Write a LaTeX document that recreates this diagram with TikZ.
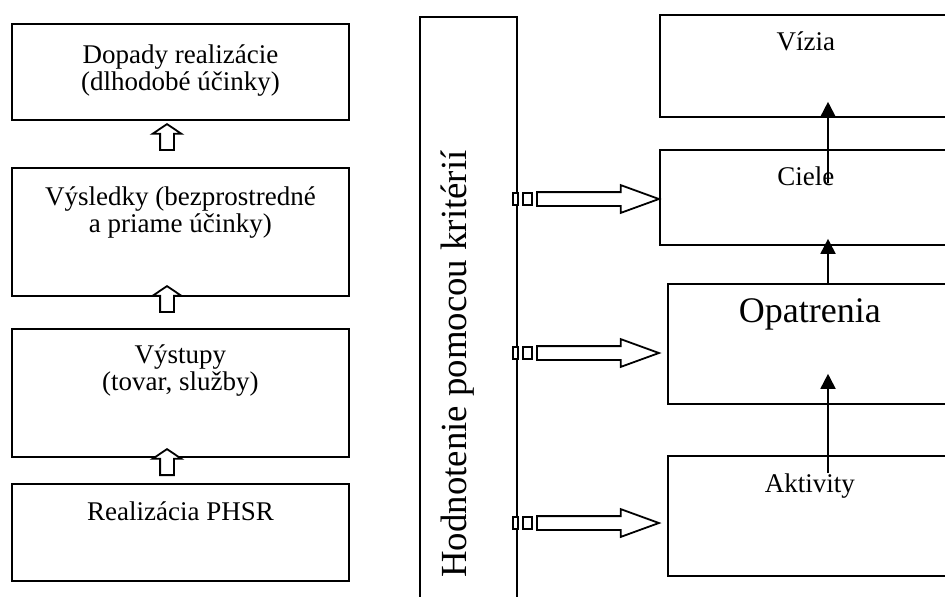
\documentclass[tikz,border=0pt]{standalone}
\usepackage{fontspec}
\setmainfont{Liberation Serif}
\usetikzlibrary{arrows.meta,shapes.arrows}

\begin{document}
\begin{tikzpicture}[x=0.5pt,y=-0.5pt,line width=0.9pt,
    box/.style={draw,rectangle,anchor=north west,inner sep=0pt},
    txt/.style={font=\fontsize{13.5}{13.5}\selectfont,align=center,anchor=base,inner sep=0pt},
    uparr/.style={draw,fill=white,single arrow,shape border rotate=90,anchor=tip,
        inner xsep=3pt,inner ysep=0pt,minimum width=0pt,single arrow head extend=3.75pt,
        single arrow tip angle=112,minimum height=13pt},
    rarr/.style={draw,fill=white,single arrow,anchor=tail,
        inner xsep=0pt,inner ysep=3pt,minimum width=0pt,single arrow head extend=3.5pt,
        single arrow tip angle=40,minimum height=61pt},
    tailbox/.style={draw,fill=white,rectangle,inner sep=0pt,minimum height=6pt},
    tri/.style={-{Triangle[length=7.5pt,width=7.5pt]}}]

  \clip (0,0) rectangle (945,596);

  % left column
  \node[box,minimum width=168.5pt,minimum height=48pt] (dopady) at (11,23) {};
  \node[box,minimum width=168.5pt,minimum height=64pt] (vysledky) at (11,167) {};
  \node[box,minimum width=168.5pt,minimum height=64pt] (vystupy) at (11,328) {};
  \node[box,minimum width=168.5pt,minimum height=48.5pt] (realiz) at (11,483) {};

  % base = last line
  \node[txt] (dopadyT) at ([yshift=-33.5pt]dopady.north) {Dopady realizácie\\(dlhodobé účinky)};
  \node[txt] (vysledkyT) at ([yshift=-32.5pt]vysledky.north) {Výsledky (bezprostredné\\a priame účinky)};
  \node[txt] (vystupyT) at ([yshift=-31pt]vystupy.north) {Výstupy\\(tovar, služby)};
  \node[txt] (realizT) at ([yshift=-18.5pt]realiz.north) {Realizácia PHSR};

  \node[uparr] (u1) at (167,123) {};
  \node[uparr] (u2) at (167,285) {};
  \node[uparr] (u3) at (167,448) {};

  % hodnotenie
  \node[box,minimum width=48.5pt,minimum height=300pt] (hodn) at (419,16) {};
  \node[txt,anchor=center,rotate=90,font=\fontsize{18.4}{19}\selectfont] (hodnT) at (458,364) {Hodnotenie pomocou kritérií};

  \foreach \y/\n in {199/1,353/2,523/3}{
    \node[tailbox,minimum width=2.5pt] (sa\n) at (515.5,\y) {};
    \node[tailbox,minimum width=4.5pt] (sb\n) at (527.5,\y) {};
    \node[rarr] (r\n) at (536,\y) {};
  }

  % right column
  \node[box,minimum width=146pt,minimum height=51pt] (vizia) at (659,14) {};
  \node[box,minimum width=146pt,minimum height=47.5pt] (ciele) at (659,149) {};
  \node[box,minimum width=142pt,minimum height=60pt] (opatr) at (667,283) {};
  \node[box,minimum width=142pt,minimum height=60pt] (aktiv) at (667,455) {};

  \node[txt] (viziaT) at ([yshift=-18pt]vizia.north) {Vízia};
  \node[txt] (cieleT) at ([yshift=-18pt]ciele.north) {Ciele};
  \node[txt,font=\fontsize{18}{18}\selectfont] (opatrT) at ([yshift=-19.5pt]opatr.north) {Opatrenia};
  \node[txt] (aktivT) at ([yshift=-18.5pt]aktiv.north) {Aktivity};

  \coordinate (a1) at (828,183);
  \coordinate (a2) at (828,283);
  \coordinate (a3) at (828,473);
  \draw[tri] (a1) -- ([yshift=8pt]a1 |- vizia.south);
  \draw[tri] (a2) -- ([yshift=3.5pt]a2 |- ciele.south);
  \draw[tri] (a3) -- ([yshift=15.5pt]a3 |- opatr.south);
\end{tikzpicture}
\end{document}
